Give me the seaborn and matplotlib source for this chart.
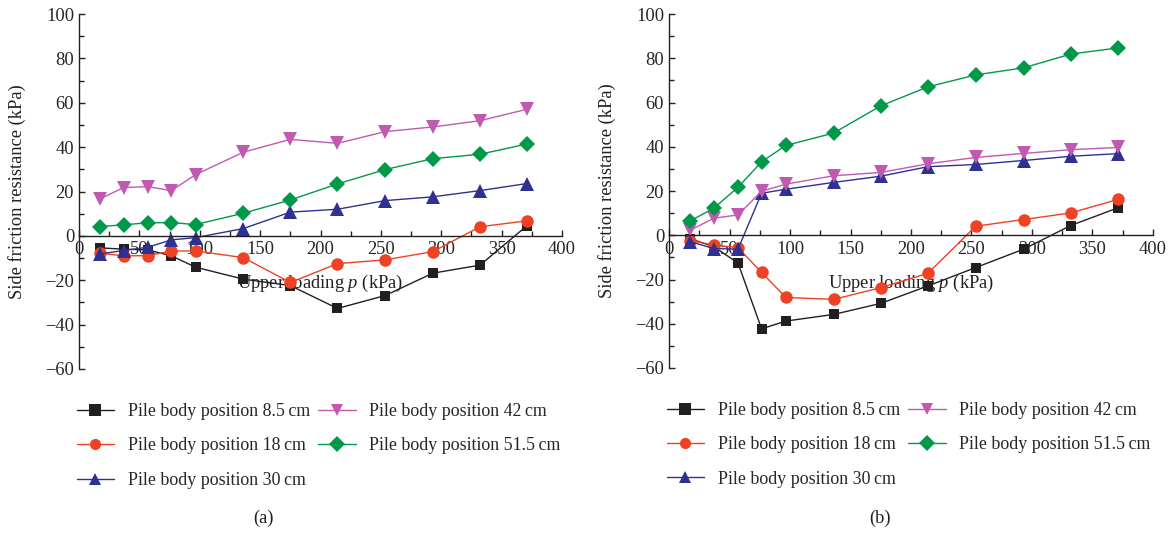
import pandas as pd
import seaborn as sns
import matplotlib.pyplot as plt
from matplotlib.ticker import MultipleLocator

LOAD = [17.5, 37, 57, 76.5, 96.5, 136, 175, 214, 253.5, 293, 332, 371]
SERIES = ["Pile body position 8.5\u2009cm", "Pile body position 18\u2009cm",
          "Pile body position 30\u2009cm", "Pile body position 42\u2009cm",
          "Pile body position 51.5\u2009cm"]

# panel (a)
A_85 = [-5.4, -6.0, -6.3, -9.0, -14.1, -19.5, -22.4, -32.7, -26.9, -16.8, -13.2, 4.6]
A_18 = [-7.8, -9.0, -8.9, -6.8, -6.8, -9.8, -21.0, -12.5, -10.8, -7.1, 4.1, 6.8]
A_30 = [-8.1, -6.6, -5.1, -1.8, -0.8, 3.3, 10.7, 12.0, 15.9, 17.6, 20.4, 23.6]
A_42 = [16.7, 21.8, 22.2, 20.4, 27.6, 37.7, 43.5, 41.7, 47.0, 49.1, 51.9, 57.1]
A_515 = [4.2, 5.0, 5.9, 6.0, 5.1, 10.2, 16.2, 23.4, 29.9, 34.8, 36.8, 41.4]

# panel (b)
B_85 = [-1.5, -5.2, -12.5, -42.3, -38.8, -35.8, -30.8, -22.9, -14.6, -6.3, 4.4, 12.4]
B_18 = [-2.4, -4.4, -5.6, -16.8, -28.1, -29.0, -23.7, -17.2, 4.1, 7.1, 10.1, 16.2]
B_30 = [-2.9, -6.0, -6.3, 19.0, 20.8, 23.9, 26.7, 31.0, 32.0, 33.8, 35.7, 36.9]
B_42 = [2.3, 7.7, 9.2, 19.9, 23.1, 26.9, 28.4, 32.3, 35.2, 37.0, 38.7, 39.7]
B_515 = [6.5, 12.2, 21.7, 33.2, 40.6, 46.2, 58.5, 67.1, 72.5, 75.7, 81.9, 84.7]

COLORS = ["#231f20", "#ef4123", "#2e3192", "#c259b1", "#00994a"]
MARKERS = ["s", "o", "^", "v", "D"]
MSIZE = [7.5, 9, 9.5, 9.5, 8]

sns.set_style("ticks")
plt.rcParams['font.family'] = ['Liberation Serif', 'DejaVu Serif']
plt.rcParams['mathtext.fontset'] = 'custom'
plt.rcParams['mathtext.it'] = 'Liberation Serif:italic'
FS = 13.3
LEG_FS = 12.9


def to_long(cols):
    rows = []
    for name, vals in zip(SERIES, cols):
        for x, y in zip(LOAD, vals):
            rows.append({"load": x, "friction": y, "series": name})
    return pd.DataFrame(rows)


def draw_panel(ax, df, tag, tag_x):
    sns.lineplot(
        data=df, x="load", y="friction",
        hue="series", style="series",
        hue_order=SERIES, style_order=SERIES,
        palette=dict(zip(SERIES, COLORS)),
        markers=dict(zip(SERIES, MARKERS)),
        dashes=False, estimator=None, sort=False,
        linewidth=1.0, markersize=8, markeredgewidth=0,
        ax=ax,
    )
    for line, ms in zip(ax.lines, MSIZE):
        line.set_markersize(ms)

    ax.set_xlim(0, 400)
    ax.set_ylim(-60, 100)
    ax.xaxis.set_major_locator(MultipleLocator(50))
    ax.xaxis.set_minor_locator(MultipleLocator(25))
    ax.yaxis.set_major_locator(MultipleLocator(20))
    ax.yaxis.set_minor_locator(MultipleLocator(10))
    ax.tick_params(which='both', direction='in', labelsize=FS, width=1.0, color='#231f20')
    ax.tick_params(which='major', length=4.5)
    ax.tick_params(which='minor', length=3.5)
    ax.tick_params(axis='x', pad=4)

    ax.spines['top'].set_visible(False)
    ax.spines['right'].set_visible(False)
    ax.spines['bottom'].set_position(('data', 0))
    for s in ('left', 'bottom'):
        ax.spines[s].set_linewidth(1.0)
        ax.spines[s].set_color('#231f20')

    ax.set_xlabel("Upper loading $p$ (kPa)", fontsize=FS, color='#231f20')
    ax.xaxis.set_label_coords(0.5, 0.27)
    ax.set_ylabel("Side friction resistance (kPa)", fontsize=FS, color='#231f20')
    ax.yaxis.set_label_coords(-0.11, 0.5)

    sns.move_legend(
        ax, "upper left", bbox_to_anchor=(-0.005, -0.096),
        ncol=2, frameon=False, title=None, fontsize=LEG_FS,
        handlelength=2.1, handletextpad=0.75, columnspacing=0.45,
        labelspacing=0.97, borderpad=0, borderaxespad=0,
    )
    ax.figure.text(tag_x, 0.028, tag, fontsize=FS, ha='center', va='center', color='#231f20')


fig = plt.figure(figsize=(11.69, 5.33), dpi=100)
ax_a = fig.add_axes([0.0676, 0.3077, 0.4132, 0.666])
ax_b = fig.add_axes([0.5723, 0.3096, 0.4140, 0.664])

draw_panel(ax_a, to_long([A_85, A_18, A_30, A_42, A_515]), "(a)", 0.225)
draw_panel(ax_b, to_long([B_85, B_18, B_30, B_42, B_515]), "(b)", 0.753)

fig.savefig("out.png", dpi=100)
